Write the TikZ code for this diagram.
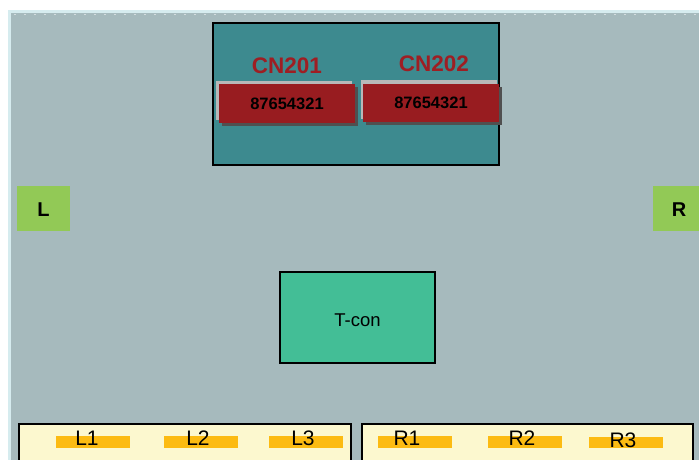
\documentclass[tikz,border=0pt]{standalone}
\usepackage{fontspec}
\setmainfont{Liberation Sans}
\definecolor{panel}{HTML}{A6BABD}
\definecolor{rim}{HTML}{D6ECEF}
\definecolor{teal}{HTML}{3D8A8F}
\definecolor{conred}{HTML}{981C20}
\definecolor{cnred}{HTML}{9E1E23}
\definecolor{lgray}{HTML}{B8B8B8}
\definecolor{dgray}{HTML}{505050}
\definecolor{lrgreen}{HTML}{92C956}
\definecolor{tcon}{HTML}{43BE96}
\definecolor{cream}{HTML}{FCF8CF}
\definecolor{bar}{HTML}{FCBB12}
\begin{document}
\begin{tikzpicture}[x=1pt,y=-1pt,
  box/.style={anchor=north west, inner sep=0pt, outer sep=0pt},
  outlined/.style={box, draw=black, line width=1.3pt},
  shade/.style={box},
  barbox/.style={box, fill=bar, minimum width=74pt, minimum height=11.5pt},
  bartext/.style={font=\fontsize{21}{21}\selectfont, text=black},
  sidebox/.style={box, fill=lrgreen, minimum height=45pt},
  sidetext/.style={font=\bfseries\fontsize{20}{20}\selectfont, text=black},
  cnlabel/.style={font=\bfseries\fontsize{22.5}{22.5}\selectfont, text=cnred},
  pins/.style={font=\bfseries\fontsize{16.5}{16.5}\selectfont, text=black}
]
\useasboundingbox (0,0) rectangle (699,460);
\fill[white] (0,0) rectangle (699,460);
\fill[rim] (8,10) rectangle (699,460);
\fill[panel] (11,13) rectangle (699,460);
\draw[white, opacity=0.5, line width=0.6pt, dash pattern=on 2pt off 8pt] (14,14.5) -- (699,14.5);

% top connector board
\node[outlined, fill=teal, minimum width=286pt, minimum height=142pt] (board) at (213,23) {};
\node[cnlabel] (cn201) at (287,66) {CN201};
\node[cnlabel] (cn202) at (434,64) {CN202};

\node[shade, fill=lgray, minimum width=136pt, minimum height=39pt] (c1back) at (216,81) {};
\node[shade, fill=dgray, minimum width=136pt, minimum height=39pt] (c1shadow) at (222,87) {};
\node[shade, fill=conred, minimum width=136pt, minimum height=39pt] (c1) at (219,84) {};
\node[pins] at ([yshift=-0.5pt]c1.center) (c1pins) {87654321};

\node[shade, fill=lgray, minimum width=136pt, minimum height=39pt] (c2back) at (361,80) {};
\node[shade, fill=dgray, minimum width=136pt, minimum height=38pt] (c2shadow) at (366,87) {};
\node[shade, fill=conred, minimum width=136pt, minimum height=38pt] (c2) at (363,84) {};
\node[pins] at ([yshift=0.5pt]c2.center) (c2pins) {87654321};

% side markers
\node[sidebox, minimum width=53pt] (L) at (17,186) {};
\node[sidetext] at ([yshift=-1.5pt]L.center) (Ltext) {L};
\node[sidebox, minimum width=46pt] (R) at (653,186) {};
\node[sidetext] at ([xshift=3pt,yshift=-1.5pt]R.center) (Rtext) {R};

% T-con
\node[outlined, fill=tcon, minimum width=155pt, minimum height=91pt] (tcon) at (280,272) {};
\node[font=\fontsize{18.5}{18.5}\selectfont] at ([yshift=-2.5pt]tcon.center) (tcontext) {T-con};

% bottom strips
\node[outlined, fill=cream, minimum width=332pt, minimum height=45pt] (left) at (19,424) {};
\node[outlined, fill=cream, minimum width=331pt, minimum height=45pt] (right) at (362,424) {};

\node[barbox] (l1) at (56,436) {};
\node[barbox] (l2) at (164,436) {};
\node[barbox] (l3) at (269,436) {};
\node[barbox] (r1) at (378,436) {};
\node[barbox] (r2) at (488,436) {};
\node[barbox] (r3) at (589,436.5) {};

\node[bartext] at (87,438) (l1t) {L1};
\node[bartext] at (198,438) (l2t) {L2};
\node[bartext] at (303,438) (l3t) {L3};
\node[bartext] at (407,438) (r1t) {R1};
\node[bartext] at (522,438) (r2t) {R2};
\node[bartext] at (623,440) (r3t) {R3};
\end{tikzpicture}
\end{document}
